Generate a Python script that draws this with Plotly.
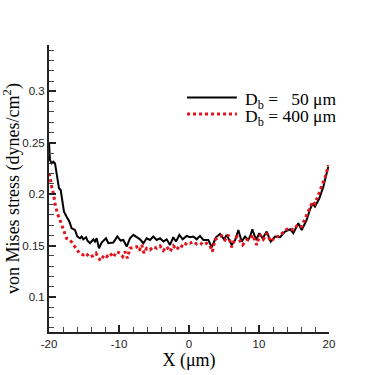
import plotly.graph_objects as go

# D_b = 50 um (solid black)
x_50 = [-20, -19.86, -19.62, -19.38, -19.14, -18.9, -18.57, -18.33, -18.1, -17.86,
        -17.5, -17.1, -16.76, -16.29, -15.95, -15.57, -15.33, -15.1, -14.7, -14.52,
        -14.14, -13.67, -13.43, -13.19, -12.86, -12.48, -11.86, -11.52, -10.81, -10.24,
        -9.76, -9.38, -8.9, -8.43, -7.95, -7.48, -7.0, -6.52, -6.05, -5.57,
        -5.1, -4.62, -4.14, -3.67, -3.19, -2.71, -2.24, -1.86, -1.38, -0.9,
        -0.33, 0.14, 0.62, 1.1, 1.57, 2.05, 2.76, 3.24, 3.86, 4.43,
        5.0, 5.38, 6.1, 6.57, 7.05, 7.52, 8.0, 8.48, 8.81, 9.05,
        9.57, 10.05, 10.52, 11.1, 11.67, 12.29, 13.0, 13.71, 14.43, 14.9,
        15.62, 16.1, 16.81, 17.29, 17.67, 18.0, 18.62, 19.19, 19.57, 19.9]
y_50 = [0.2503, 0.2332, 0.2299, 0.2316, 0.2299, 0.2202, 0.2057, 0.2040, 0.1943, 0.1830,
        0.1782, 0.1734, 0.1668, 0.1652, 0.1588, 0.1571, 0.1588, 0.1561, 0.1581, 0.1549,
        0.1523, 0.1561, 0.1539, 0.1571, 0.1474, 0.1529, 0.1571, 0.1523, 0.1529, 0.1588,
        0.1549, 0.1555, 0.1490, 0.1571, 0.1604, 0.1581, 0.1561, 0.1523, 0.1571, 0.1555,
        0.1588, 0.1555, 0.1571, 0.1539, 0.1561, 0.1506, 0.1581, 0.1539, 0.1604, 0.1561,
        0.1594, 0.1581, 0.1588, 0.1561, 0.1594, 0.1555, 0.1555, 0.1484, 0.1581, 0.1613,
        0.1561, 0.1604, 0.1506, 0.1549, 0.1652, 0.1539, 0.1588, 0.1555, 0.1604, 0.1659,
        0.1555, 0.1620, 0.1571, 0.1636, 0.1539, 0.1588, 0.1581, 0.1636, 0.1659, 0.1620,
        0.1717, 0.1652, 0.1749, 0.1853, 0.1911, 0.1879, 0.1960, 0.2073, 0.2170, 0.2267]

# D_b = 400 um (dotted red)
x_400 = [-20, -19.86, -19.62, -19.38, -19.14, -18.81, -18.43, -18.1, -17.81, -17.5,
         -17.0, -16.52, -16.05, -15.57, -15.1, -14.71, -14.24, -13.76, -13.29, -12.95,
         -12.57, -12.14, -11.76, -11.29, -10.81, -10.33, -9.86, -9.48, -9.14, -8.81,
         -8.43, -7.95, -7.48, -7.1, -6.76, -6.43, -6.05, -5.57, -5.1, -4.62,
         -4.14, -3.67, -3.19, -2.71, -2.24, -1.76, -1.29, -0.81, -0.33, 0.14,
         0.62, 1.1, 1.57, 2.05, 2.52, 3.0, 3.33, 3.71, 4.19, 4.67,
         5.14, 5.62, 6.1, 6.57, 6.9, 7.67, 8.24, 8.71, 9.1, 9.67,
         10.14, 10.62, 11.1, 11.67, 12.29, 13.0, 13.71, 14.43, 14.9, 15.52,
         16.1, 16.71, 17.29, 17.67, 18.0, 18.62, 19.19, 19.57, 19.9]
y_400 = [0.2202, 0.2170, 0.2073, 0.2008, 0.1911, 0.1814, 0.1749, 0.1684, 0.1620, 0.1571,
         0.1555, 0.1506, 0.1458, 0.1419, 0.1409, 0.1426, 0.1387, 0.1400, 0.1426, 0.1377,
         0.1354, 0.1409, 0.1393, 0.1426, 0.1387, 0.1442, 0.1426, 0.1393, 0.1442, 0.1377,
         0.1474, 0.1484, 0.1490, 0.1451, 0.1506, 0.1426, 0.1474, 0.1458, 0.1490, 0.1474,
         0.1497, 0.1451, 0.1490, 0.1442, 0.1497, 0.1458, 0.1506, 0.1484, 0.1529, 0.1523,
         0.1539, 0.1516, 0.1529, 0.1506, 0.1523, 0.1497, 0.1442, 0.1555, 0.1581, 0.1594,
         0.1555, 0.1604, 0.1484, 0.1571, 0.1588, 0.1506, 0.1555, 0.1561, 0.1604, 0.1506,
         0.1604, 0.1561, 0.1620, 0.1539, 0.1581, 0.1594, 0.1652, 0.1668, 0.1652, 0.1701,
         0.1684, 0.1782, 0.1879, 0.1927, 0.1905, 0.2008, 0.2121, 0.2186, 0.2283]

x_ticks = [-20, -10, 0, 10, 20]
x_ticklabels = ["-20", "-10", "0", "10", "20"]
legend_labels = ["D<sub>b</sub> = &nbsp;&nbsp;50 \u03bcm", "D<sub>b</sub> = 400 \u03bcm"]

serif = "Liberation Serif, Times New Roman, serif"
sans = "Liberation Sans, Arial, sans-serif"
red = "#e3131b"

fig = go.Figure()
fig.add_trace(go.Scatter(x=x_50, y=y_50, mode="lines", showlegend=False,
                         line=dict(color="black", width=2)))
fig.add_trace(go.Scatter(x=x_400, y=y_400, mode="lines", showlegend=False,
                         line=dict(color=red, width=3, dash="dot")))

# hand-made legend (longer keys than plotly's native legend)
legend_rows = [(0.817, "black", 2, "solid"), (0.760, red, 3, "dot")]
for (ly, col, w, dash), label in zip(legend_rows, legend_labels):
    fig.add_shape(type="line", xref="paper", yref="paper", x0=0.493, x1=0.671, y0=ly, y1=ly,
                  line=dict(color=col, width=w, dash=dash))
    fig.add_annotation(xref="paper", yref="paper", x=0.693, y=ly - 0.012, xanchor="left",
                       yanchor="middle", showarrow=False, text=label,
                       font=dict(family=serif, size=17.5, color="black"))

axis_common = dict(showline=True, linecolor="#222", linewidth=2, ticks="inside",
                   tickcolor="#222", tickwidth=1.5, ticklen=7, showgrid=False,
                   zeroline=False, mirror=False, automargin=False,
                   tickfont=dict(family=sans, size=11.5, color="#222"))

fig.update_xaxes(range=[-20, 20], tickvals=x_ticks, ticktext=x_ticklabels,
                 minor=dict(dtick=2, tick0=0, ticks="inside", ticklen=5, tickcolor="#444",
                            tickwidth=1, showgrid=False),
                 title=dict(text="X (\u03bcm)", font=dict(family=serif, size=18, color="black"),
                            standoff=2),
                 **axis_common)
fig.update_yaxes(range=[0.066, 0.345], dtick=0.05, tick0=0,
                 minor=dict(dtick=0.01, tick0=0, ticks="inside", ticklen=5, tickcolor="#444",
                            tickwidth=1, showgrid=False),
                 title=dict(text="von Mises stress (dynes/cm<sup>2</sup>)",
                            font=dict(family=serif, size=18, color="black"), standoff=4),
                 **axis_common)

fig.update_layout(
    width=374, height=375,
    margin=dict(l=49, r=45, t=45, b=43),
    plot_bgcolor="white", paper_bgcolor="white",
)

# drop the browser's default 8px body margin so the figure sits at the page corner
fig.write_html("out.html", config={"displayModeBar": False},
               post_script="document.body.style.margin='0';")
